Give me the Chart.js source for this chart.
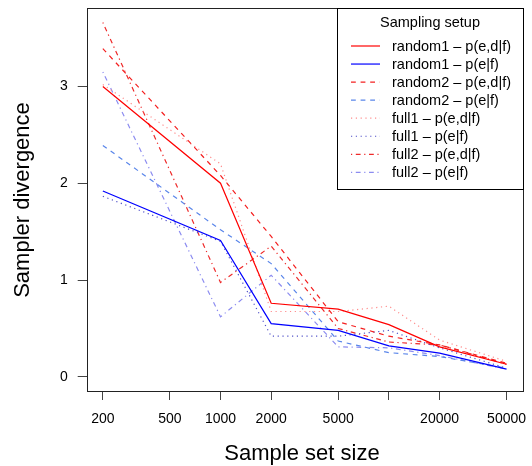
<!DOCTYPE html>
<html>
<head>
<meta charset="utf-8">
<script src="https://cdn.jsdelivr.net/npm/chart.js@4"></script>
<style>
  html, body { margin: 0; padding: 0; background: #fff; }
  #wrap { width: 532px; height: 466px; }
</style>
</head>
<body>
<div id="wrap"><canvas id="chart" width="532" height="466"></canvas></div>
<script>
// sample set sizes where each setup was measured
const sampleSizes = [200, 1000, 2000, 5000, 10000, 20000, 50000];

const random1Joint = [3.00, 2.00, 0.76, 0.70, 0.54, 0.31, 0.13];
const random1Marg  = [1.92, 1.41, 0.55, 0.48, 0.32, 0.245, 0.08];
const random2Joint = [3.39, 2.08, 1.45, 0.57, 0.42, 0.33, 0.14];
const random2Marg  = [2.39, 1.52, 1.17, 0.37, 0.25, 0.21, 0.09];
const full1Joint   = [3.02, 2.20, 0.675, 0.675, 0.73, 0.38, 0.16];
const full1Marg    = [1.865, 1.40, 0.42, 0.42, 0.48, 0.30, 0.09];
const full2Joint   = [3.66, 0.975, 1.35, 0.50, 0.36, 0.33, 0.13];
const full2Marg    = [3.15, 0.62, 1.05, 0.31, 0.30, 0.22, 0.08];

const seriesLabels = [
  'random1 \u2013 p(e,d|f)', 'random1 \u2013 p(e|f)',
  'random2 \u2013 p(e,d|f)', 'random2 \u2013 p(e|f)',
  'full1 \u2013 p(e,d|f)', 'full1 \u2013 p(e|f)',
  'full2 \u2013 p(e,d|f)', 'full2 \u2013 p(e|f)'
];

const xTickValues = [200, 500, 1000, 2000, 5000, 10000, 20000, 50000];
const xTickLabels = ['200', '500', '1000', '2000', '5000', '', '20000', '50000'];
const yTickValues = [0, 1, 2, 3];

const FONT = '"Liberation Sans", Arial, sans-serif';
const SOLID = [], DASHED = [4.8, 4.8], DOTTED = [1.2, 3.6], DOTDASH = [1.2, 3.6, 4.8, 3.6];

const styles = [
  { color: '#ff0000', dash: SOLID },
  { color: '#0000ff', dash: SOLID },
  { color: '#f42020', dash: DASHED },
  { color: '#5a86ea', dash: DASHED },
  { color: '#ff8c8c', dash: DOTTED },
  { color: '#5050c8', dash: DOTTED },
  { color: '#ee2a2a', dash: DOTDASH },
  { color: '#8c8cf0', dash: DOTDASH }
];

const allSeries = [random1Joint, random1Marg, random2Joint, random2Marg,
                   full1Joint, full1Marg, full2Joint, full2Marg];

const datasets = allSeries.map((vals, i) => ({
  label: seriesLabels[i],
  data: vals.map((y, j) => ({ x: sampleSizes[j], y })),
  borderColor: styles[i].color,
  borderDash: styles[i].dash,
  borderWidth: 1.2,
  pointRadius: 0,
  tension: 0,
  fill: false
}));

// box, axis titles and the R-style legend
const decor = {
  id: 'decor',
  afterDraw(chart) {
    const { ctx, chartArea: a } = chart;
    ctx.save();
    ctx.strokeStyle = '#222';
    ctx.lineWidth = 1;
    ctx.setLineDash([]);
    ctx.strokeRect(Math.round(a.left) + 0.5, Math.round(a.top) + 0.5,
                   Math.round(a.right - a.left), Math.round(a.bottom - a.top));

    ctx.fillStyle = '#000';
    ctx.font = '22px ' + FONT;
    ctx.textAlign = 'center';
    ctx.textBaseline = 'alphabetic';
    ctx.fillText('Sample set size', 302, 460);
    ctx.save();
    ctx.translate(29, 200);
    ctx.rotate(-Math.PI / 2);
    ctx.fillText('Sampler divergence', 0, 0);
    ctx.restore();

    // legend
    const lx = 337.5, ly = 8.5, lw = 186, lh = 181;
    ctx.fillStyle = '#fff';
    ctx.fillRect(lx, ly, lw, lh);
    ctx.strokeStyle = '#000';
    ctx.strokeRect(lx, ly, lw, lh);
    ctx.fillStyle = '#000';
    ctx.font = '14.5px ' + FONT;
    ctx.textBaseline = 'middle';
    ctx.textAlign = 'center';
    ctx.fillText('Sampling setup', 430, 23);
    ctx.textAlign = 'left';
    chart.data.datasets.forEach((ds, i) => {
      const y = 46 + i * 18.05;
      ctx.strokeStyle = ds.borderColor;
      ctx.lineWidth = 1.2;
      ctx.setLineDash(ds.borderDash);
      ctx.beginPath();
      ctx.moveTo(351, y);
      ctx.lineTo(380, y);
      ctx.stroke();
      ctx.setLineDash([]);
      ctx.fillStyle = '#000';
      ctx.fillText(ds.label, 392, y + 0.5);
    });
    ctx.restore();
  }
};

// keep the plot box fixed: no extra room for half-labels
function noPad(s) {
  s.paddingLeft = 0; s.paddingRight = 0; s.paddingTop = 0; s.paddingBottom = 0;
}

new Chart(document.getElementById('chart'), {
  type: 'line',
  data: { datasets },
  plugins: [decor],
  options: {
    responsive: false,
    animation: false,
    devicePixelRatio: 1,
    layout: { padding: { top: 8, right: 9.3, left: 0, bottom: 0 } },
    plugins: { legend: { display: false }, tooltip: { enabled: false } },
    scales: {
      x: {
        type: 'logarithmic',
        min: 160.4,
        max: 62350,
        afterBuildTicks: s => { s.ticks = xTickValues.map(v => ({ value: v })); },
        afterFit: s => { s.height = 75; noPad(s); },
        grid: { display: true, drawOnChartArea: false, drawTicks: true, tickLength: 9, color: '#444' },
        border: { display: false },
        ticks: {
          autoSkip: false, maxRotation: 0, padding: 11,
          color: '#000', font: { family: FONT, size: 14 },
          callback: (v, i) => xTickLabels[i]
        }
      },
      y: {
        min: -0.146,
        max: 3.81,
        afterBuildTicks: s => { s.ticks = yTickValues.map(v => ({ value: v })); },
        afterFit: s => { s.width = 86.7; noPad(s); },
        grid: { display: true, drawOnChartArea: false, drawTicks: true, tickLength: 9, color: '#444' },
        border: { display: false },
        ticks: {
          padding: 10, color: '#000', font: { family: FONT, size: 14 },
          callback: v => String(v)
        }
      }
    }
  }
});
</script>
</body>
</html>
